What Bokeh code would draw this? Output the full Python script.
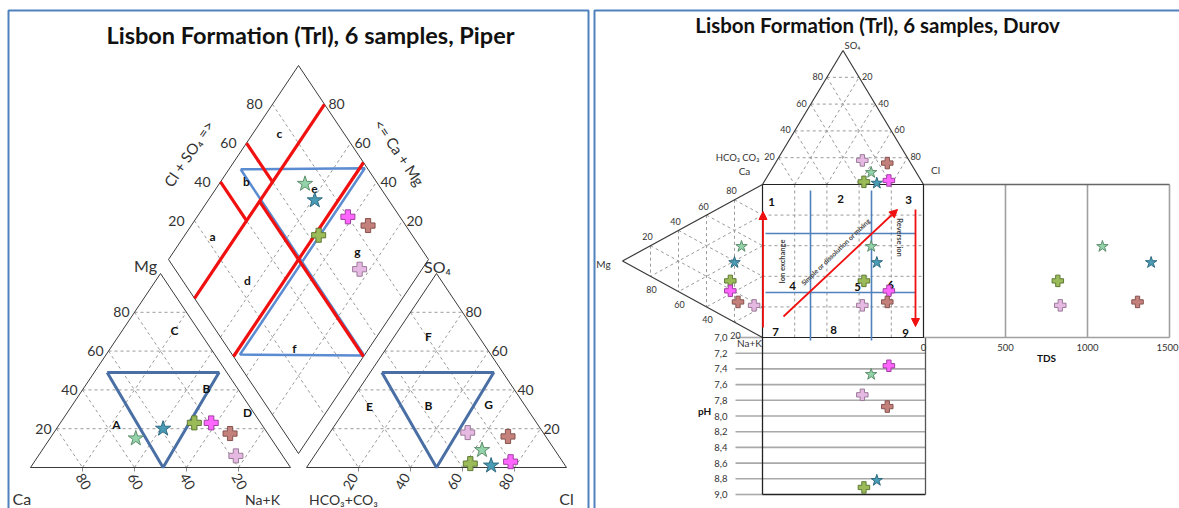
import math
from bokeh.plotting import figure
from bokeh.models import Range1d, ColumnDataSource, Arrow, NormalHead
from bokeh.core.properties import value
from bokeh.embed import file_html
from bokeh.resources import INLINE

# ---------------- sample chemistry (percent of meq/L) ----------------
ca = [52.0, 39.0, 25.5, 19.0, 14.5, 18.0]
mg = [15.0, 20.0, 23.0, 23.0, 17.5, 6.0]
nak = [33.0, 41.0, 51.5, 58.0, 68.0, 76.0]
hco3 = [28.0, 28.5, 36.0, 20.0, 14.5, 29.0]
so4 = [9.0, 1.0, 2.0, 3.0, 16.0, 18.0]
cl = [63.0, 70.5, 62.0, 77.0, 69.5, 53.0]
tds = [1091.0, 1388.0, 819.0, float("nan"), 1305.0, 834.0]
ph = [7.47, 8.82, 8.91, 7.36, 7.88, 7.73]

grid_levels = [20, 40, 60, 80]
ph_ticks = [7.0, 7.2, 7.4, 7.6, 7.8, 8.0, 8.2, 8.4, 8.6, 8.8, 9.0]
tds_ticks = [0, 500, 1000, 1500]

# marker style per sample
markers = ["star", "star", "plus", "plus", "plus", "plus"]
fills = ["#93D3A9", "#4A9CB6", "#9BBB59", "#FF66FF", "#C4817C", "#E6B9E3"]
edges = ["#5F8F6E", "#2F6B80", "#5F7A35", "#A23FA2", "#85524E", "#9C7A9A"]

# ---------------- canvas ----------------
W, H = 1179, 508
p = figure(width=W, height=H, x_range=Range1d(0, W), y_range=Range1d(0, H),
           output_backend="svg", toolbar_location=None, min_border=0,
           x_axis_location=None, y_axis_location=None)
p.grid.visible = False
p.outline_line_color = None
p.background_fill_color = "white"
p.border_fill_color = "white"

FONT = "Lato"
TXT = "#333333"


def Y(v):
    return H - v


def label(x, y, s, size=12, bold=False, align="center", baseline="middle",
          angle=0, color=TXT):
    p.text(x=[x], y=[Y(y)], text=[s], text_font=value(FONT),
           text_font_size=f"{size}px",
           text_font_style="bold" if bold else "normal",
           text_align=align, text_baseline=baseline,
           angle=angle, angle_units="deg", text_color=color)


def segments(segs, color, width=1.0, dash="solid"):
    xs = [[a[0], b[0]] for a, b in segs]
    ys = [[Y(a[1]), Y(b[1])] for a, b in segs]
    p.multi_line(xs=xs, ys=ys, line_color=color, line_width=width, line_dash=dash)


def polyline(pts, color, width=1.0, dash="solid"):
    p.line(x=[q[0] for q in pts], y=[Y(q[1]) for q in pts],
           line_color=color, line_width=width, line_dash=dash)


def tern_grid(fn):
    segs = []
    for k in grid_levels:
        segs.append((fn(100 - k, k, 0), fn(0, k, 100 - k)))
        segs.append((fn(k, 100 - k, 0), fn(k, 0, 100 - k)))
        segs.append((fn(100 - k, 0, k), fn(0, 100 - k, k)))
    return segs


GRID = "#9A9A9A"
EDGE = "#3A3A3A"
PANEL = "#4F81BD"

# ---------------- panel frames ----------------
polyline([(8, 520), (8, 10), (588, 10), (588, 520)], PANEL, 2)
polyline([(594, 520), (594, 10), (1190, 10)], PANEL, 2)

# =====================================================================
# Piper diagram
# =====================================================================
P_S, P_H, P_BASE = 260.0, 194.0, 467.0
CAT_X0, AN_X0 = 30.0, 306.0
DIA_B = ((CAT_X0 + P_S + AN_X0) / 2.0, P_BASE - 14.0)
DIA_L = (DIA_B[0] - P_S / 2.0, DIA_B[1] - P_H)


def cat_xy(a_ca, a_mg, a_na):
    t = a_ca + a_mg + a_na
    return (CAT_X0 + P_S * (a_na + a_mg / 2.0) / t, P_BASE - P_H * a_mg / t)


def an_xy(a_hco3, a_so4, a_cl):
    t = a_hco3 + a_so4 + a_cl
    return (AN_X0 + P_S * (a_cl + a_so4 / 2.0) / t, P_BASE - P_H * a_so4 / t)


def dia_xy(fx, fy):
    # fx: Na+K fraction, fy: Cl+SO4 fraction
    return (DIA_L[0] + (P_S / 2.0) * (fx + fy), DIA_L[1] + P_H * fx - P_H * fy)


# dashed grids
segments(tern_grid(cat_xy), GRID, 1, "3 3")
segments(tern_grid(an_xy), GRID, 1, "3 3")
dg = []
for k in grid_levels:
    f = k / 100.0
    dg.append((dia_xy(f, 0), dia_xy(f, 1)))
    dg.append((dia_xy(0, f), dia_xy(1, f)))
segments(dg, GRID, 1, "3 3")

# small ticks under the triangle bases
ticks = []
for k in grid_levels:
    x, y = cat_xy(k, 0, 100 - k)
    ticks.append(((x, y), (x, y + 4)))
    x, y = an_xy(100 - k, 0, k)
    ticks.append(((x, y), (x, y + 4)))
segments(ticks, "#8A8A8A", 1)

# outlines
polyline([cat_xy(100, 0, 0), cat_xy(0, 0, 100), cat_xy(0, 100, 0), cat_xy(100, 0, 0)], EDGE, 1)
polyline([an_xy(100, 0, 0), an_xy(0, 0, 100), an_xy(0, 100, 0), an_xy(100, 0, 0)], EDGE, 1)
polyline([dia_xy(0, 0), dia_xy(1, 0), dia_xy(1, 1), dia_xy(0, 1), dia_xy(0, 0)], EDGE, 1)

# facies fields in the triangles
BLUE_P = "#4A6FA5"
polyline([cat_xy(46, 49, 5), cat_xy(3, 49, 48), cat_xy(49, 0, 51), cat_xy(46, 49, 5)], BLUE_P, 3)
polyline([an_xy(46.5, 49, 4.5), an_xy(3.5, 49, 47.5), an_xy(50, 0, 50), an_xy(46.5, 49, 4.5)], BLUE_P, 3)

# fields in the diamond
polyline([dia_xy(0.045, 0.51), dia_xy(0.52, 0.99), dia_xy(0.52, 0.03),
          dia_xy(1.0, 0.505), dia_xy(0.045, 0.51)], "#5B8BD0", 2.5)
red = [
    (dia_xy(0.2, 0.0), dia_xy(0.2, 1.0)),
    (dia_xy(0.5, 0.0), dia_xy(0.5, 1.0)),
    (dia_xy(0.0, 0.6), dia_xy(0.2, 0.6)),
    (dia_xy(0.0, 0.4), dia_xy(0.2, 0.4)),
    (dia_xy(0.2, 0.5), dia_xy(1.0, 0.5)),
]
segments(red, "#F01010", 3.2)

# tick labels
for k in grid_levels:
    x, y = cat_xy(100 - k, k, 0)
    label(x - 5, y, str(k), 14, align="right")
    x, y = cat_xy(k, 0, 100 - k)
    label(x + 1, y + 14, str(k), 14, angle=-60)
    x, y = an_xy(0, k, 100 - k)
    label(x + 3, y, str(k), 14, align="left")
    x, y = an_xy(100 - k, 0, k)
    label(x - 8, y + 14, str(k), 14, angle=60)
    x, y = dia_xy(0, k / 100.0)
    label(x - 10, y, str(k), 14, align="right")
    x, y = dia_xy(1 - k / 100.0, 1)
    label(x + 4, y, str(k), 14, align="left")

label(310, 34, "Lisbon Formation (Trl), 6 samples, Piper", 23.5, bold=True, color="#111111")
label(188, 153, "Cl + SO\u2084 =>", 15, angle=56)
label(399, 152, "<= Ca + Mg", 15, angle=-56)
label(145, 265, "Mg", 16)
label(437, 266, "SO\u2084", 16)
label(12, 507, "Ca", 16, align="left", baseline="bottom")
label(262, 507, "Na+K", 14, baseline="bottom")
label(343, 507, "HCO\u2083+CO\u2083", 14, baseline="bottom")
label(566, 507, "Cl", 16, baseline="bottom")

for s, x, y in [("A", 116, 424), ("B", 206, 388), ("C", 174, 330), ("D", 247, 412),
                ("E", 369, 406), ("B", 428, 405), ("F", 428, 336), ("G", 488, 404),
                ("a", 212, 236), ("b", 246, 181), ("c", 279, 133), ("d", 247, 280),
                ("e", 314, 188), ("f", 294, 348), ("g", 357, 251)]:
    label(x, y, s, 12, bold=True, color="#111111")

# =====================================================================
# Durov diagram
# =====================================================================
SQ_X0, SQ_Y0, SQ_W, SQ_H = 762.0, 184.0, 161.0, 153.0
DA_H, DC_W = 134.0, 140.0
TDS_X0, TDS_W, TDS_MAX = 923.0, 246.0, 1500.0
PH_Y0, PH_Y1, PH_MIN, PH_MAX = 337.0, 494.0, 7.0, 9.0


def dan_xy(a_hco3, a_so4, a_cl):
    t = a_hco3 + a_so4 + a_cl
    return (SQ_X0 + SQ_W * (a_cl + a_so4 / 2.0) / t, SQ_Y0 - DA_H * a_so4 / t)


def dcat_xy(a_ca, a_mg, a_na):
    t = a_ca + a_mg + a_na
    return (SQ_X0 - DC_W * a_mg / t, SQ_Y0 + SQ_H * (a_na + a_mg / 2.0) / t)


def tds_x(v):
    return TDS_X0 + TDS_W * v / TDS_MAX


def ph_y(v):
    return PH_Y0 + (PH_Y1 - PH_Y0) * (v - PH_MIN) / (PH_MAX - PH_MIN)


# dashed grids
segments(tern_grid(dan_xy), GRID, 1, "3 3")
segments(tern_grid(dcat_xy), GRID, 1, "3 3")
sg = []
for k in grid_levels:
    sg.append(((SQ_X0 + SQ_W * k / 100.0, SQ_Y0), (SQ_X0 + SQ_W * k / 100.0, SQ_Y0 + SQ_H)))
    sg.append(((SQ_X0, SQ_Y0 + SQ_H * k / 100.0), (SQ_X0 + SQ_W, SQ_Y0 + SQ_H * k / 100.0)))
segments(sg, GRID, 1, "3 3")

# pH panel
PH_GRID = "#A9A9A9"
segments([((735, ph_y(v)), (925, ph_y(v))) for v in ph_ticks[1:-1]], PH_GRID, 1.6)
segments([((735, ph_y(PH_MIN)), (SQ_X0, ph_y(PH_MIN))),
          ((735, ph_y(PH_MAX)), (SQ_X0, ph_y(PH_MAX)))], PH_GRID, 1.6)
segments([((SQ_X0, ph_y(PH_MAX)), (925, ph_y(PH_MAX))),
          ((SQ_X0, ph_y(PH_MIN)), (SQ_X0, ph_y(PH_MAX)))], "#222222", 1.3)
segments([((925, ph_y(PH_MIN)), (925, ph_y(PH_MAX)))], "#555555", 1.3)
for v in ph_ticks:
    label(727, ph_y(v), f"{v:.1f}".replace(".", ","), 9.5, align="right")
label(704, 410, "pH", 10, bold=True, color="#111111")

# TDS panel
segments([((tds_x(v), SQ_Y0), (tds_x(v), SQ_Y0 + SQ_H)) for v in tds_ticks[1:]], "#A0A0A0", 1.6)
segments([((TDS_X0, SQ_Y0 + SQ_H), (tds_x(TDS_MAX), SQ_Y0 + SQ_H))], "#A0A0A0", 1.6)
segments([((TDS_X0, SQ_Y0), (tds_x(TDS_MAX), SQ_Y0))], "#666666", 1.5)
for v in tds_ticks[:-1]:
    label(tds_x(v), 347, str(v), 9.5)
label(1178, 347, str(tds_ticks[-1]), 9.5, align="right")
label(1046, 357, "TDS", 10, bold=True, color="#111111")

# outlines
polyline([dan_xy(100, 0, 0), dan_xy(0, 100, 0), dan_xy(0, 0, 100)], EDGE, 1.2)
polyline([dcat_xy(100, 0, 0), dcat_xy(0, 100, 0), dcat_xy(0, 0, 100)], EDGE, 1.2)
polyline([(SQ_X0, SQ_Y0), (SQ_X0 + SQ_W, SQ_Y0), (SQ_X0 + SQ_W, SQ_Y0 + SQ_H),
          (SQ_X0, SQ_Y0 + SQ_H), (SQ_X0, SQ_Y0)], "#222222", 1.2)

# field boundaries in the square
BLUE_D = "#4F81BD"
segments([((810, 190), (810, 340)), ((871, 190), (871, 340)),
          ((765, 233), (915, 233)), ((765, 292), (915, 292))], BLUE_D, 1.6)

RED_D = "#F01010"
for xs0, ys0, xs1, ys1 in [(762.5, 327, 762.5, 211), (783, 316, 897, 209), (915, 209, 915, 326)]:
    p.add_layout(Arrow(end=NormalHead(size=8, fill_color=RED_D, line_color=RED_D),
                       x_start=xs0, y_start=Y(ys0), x_end=xs1, y_end=Y(ys1),
                       line_color=RED_D, line_width=1.8))
label(782, 261, "Ion exchange", 7.5, bold=True, angle=90, color="#444444")
label(835, 251, "Simple or dissolution or mixing", 6.8, bold=True, angle=44, color="#444444")
label(899, 237, "Reverse ion", 7.5, bold=True, angle=-90, color="#444444")

for s, x, y in [("1", 771, 201), ("2", 840, 198), ("3", 908, 199),
                ("4", 792, 285), ("5", 857, 286), ("6", 890, 284),
                ("7", 775, 331), ("8", 833, 329), ("9", 905, 332)]:
    label(x, y, s, 11.5, bold=True, color="#111111")

# tick labels
for k in grid_levels:
    x, y = dan_xy(100 - k, k, 0)
    label(x - 4, y - 1, str(k), 9, align="right")
    x, y = dan_xy(0, 100 - k, k)
    label(x + 3, y - 1, str(k), 9, align="left")
    x, y = dcat_xy(k, 100 - k, 0)
    label(x - 3, y - 9, str(k), 9)
    x, y = dcat_xy(0, k, 100 - k)
    label(x + 1, y + 13, str(k), 9)

label(877, 24, "Lisbon Formation (Trl), 6 samples, Durov", 20.5, bold=True, color="#111111")
label(852, 45, "SO\u2084", 9.5)
label(737, 157, "HCO\u2083 CO\u2083", 9.5)
label(744, 170, "Ca", 10)
label(935, 169, "Cl", 10)
label(603, 263, "Mg", 10)
label(749, 342, "Na+K", 10)

# =====================================================================
# sample markers
# =====================================================================
cat_pts = [cat_xy(a, b, c) for a, b, c in zip(ca, mg, nak)]
an_pts = [an_xy(a, b, c) for a, b, c in zip(hco3, so4, cl)]
dia_pts = [dia_xy(c / 100.0, (b + s) / 100.0) for c, b, s in zip(nak, cl, so4)]
dan_pts = [dan_xy(a, b, c) for a, b, c in zip(hco3, so4, cl)]
dcat_pts = [dcat_xy(a, b, c) for a, b, c in zip(ca, mg, nak)]

sizes_p = [16 if m == "star" else 14 for m in markers]
sizes_d = [12 if m == "star" else 11.5 for m in markers]


def draw(pts, sizes):
    src = ColumnDataSource(dict(x=[q[0] for q in pts], y=[Y(q[1]) for q in pts],
                                marker=markers, fill=fills, edge=edges, size=sizes))
    p.scatter(x="x", y="y", marker="marker", size="size", fill_color="fill",
              line_color="edge", line_width=1, source=src)


draw(cat_pts, sizes_p)
draw(an_pts, sizes_p)
draw(dia_pts, sizes_p)
draw(dan_pts, sizes_d)
draw(dcat_pts, sizes_d)
draw([(d[0], c[1]) for d, c in zip(dan_pts, dcat_pts)], sizes_d)
draw([(tds_x(t), c[1]) for t, c in zip(tds, dcat_pts)], sizes_d)
draw([(d[0], ph_y(v)) for d, v in zip(dan_pts, ph)], sizes_d)

open("out.html", "w").write(file_html(p, INLINE))
